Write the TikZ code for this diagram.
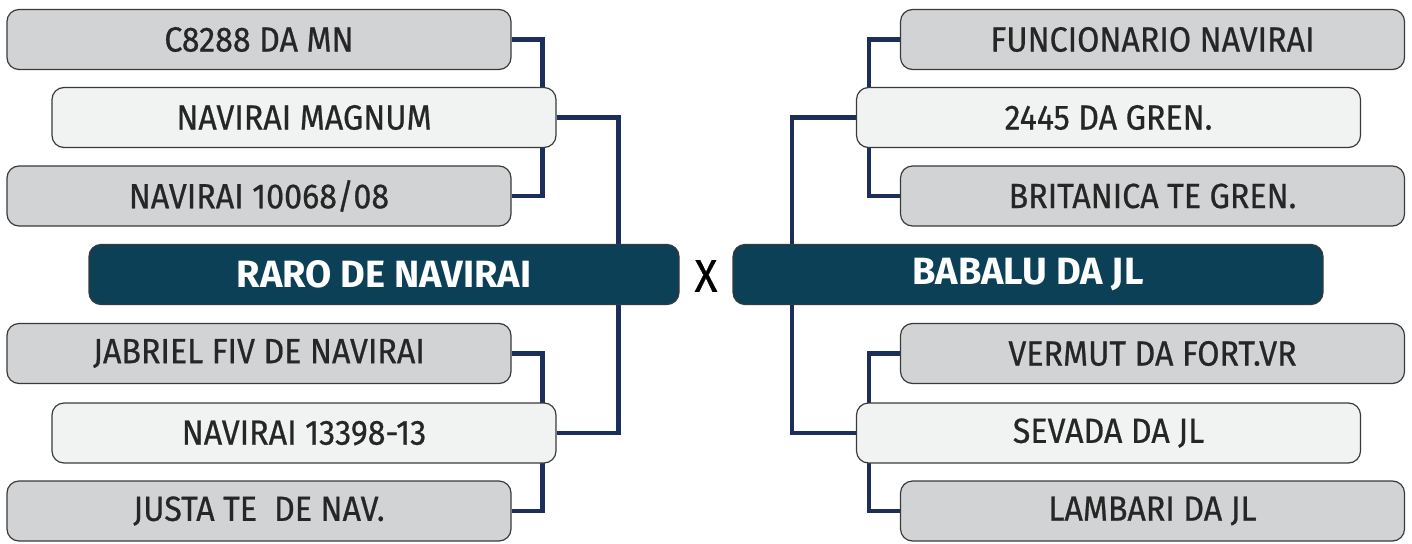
\documentclass[tikz,border=0pt]{standalone}
\usepackage{fontspec}
\setmainfont{Fira Sans}
\newfontfamily\entryfont{Fira Sans}[FakeStretch=0.92, FakeBold=0.6]
\usetikzlibrary{positioning, backgrounds}

\definecolor{boxgray}{HTML}{D1D3D4}
\definecolor{boxlight}{HTML}{F1F2F2}
\definecolor{boxteal}{HTML}{0B4057}
\definecolor{linknavy}{HTML}{1C2F5A}
\definecolor{edgegray}{HTML}{3A3A3A}

\begin{document}
\begin{tikzpicture}[
    x=1pt, y=-1pt,
    entry/.style={rectangle, rounded corners=12pt, minimum width=504pt, minimum height=60pt, text centered, draw=edgegray, line width=1.2pt, text=black!85, font=\entryfont\fontsize{35}{40}\selectfont},
    outer/.style={entry, fill=boxgray},
    inner/.style={entry, fill=boxlight},
    finalist/.style={entry, minimum width=590pt, fill=boxteal, text=white, font=\normalfont\fontsize{38}{44}\selectfont\bfseries},
    link/.style={draw=linknavy, line width=4.5pt}
]
\useasboundingbox (0,0) rectangle (1412,543);

% Left bracket
\node[finalist] (raro) at (384,274.5) {RARO DE NAVIRAI};
\node[outer] (c8288) at (259,39.5) {C8288 DA MN};
\node[inner] (magnum) at (304,117.5) {NAVIRAI MAGNUM};
\node[outer] (n10068) at (259,196) {NAVIRAI 10068/08};
\node[outer] (jabriel) at (259,353.5) {JABRIEL FIV DE NAVIRAI};
\node[inner] (n13398) at (304,433) {NAVIRAI 13398-13};
\node[outer] (justa) at (259,511) {JUSTA TE~~DE NAV.};

% Versus
\node[font=\entryfont\fontsize{46}{50}\selectfont] (vs) at (706,276) {X};

% Right bracket
\node[finalist] (babalu) at (1028,274.5) {BABALU DA JL};
\node[outer] (funcionario) at (1152.5,39.5) {FUNCIONARIO NAVIRAI};
\node[inner] (g2445) at (1108.5,117.5) {2445 DA GREN.};
\node[outer] (britanica) at (1152.5,196) {BRITANICA TE GREN.};
\node[outer] (vermut) at (1152.5,353.5) {VERMUT DA FORT.VR};
\node[inner] (sevada) at (1108.5,433) {SEVADA DA JL};
\node[outer] (lambari) at (1152.5,511) {LAMBARI DA JL};

% Connectors
\begin{scope}[on background layer]
\draw[link] (c8288.east) -- ++(31,0) |- (n10068.east);
\draw[link] (jabriel.east) -- ++(31,0) |- (justa.east);
\draw[link] (magnum.east) -- ++(62,0) |- (n13398.east);
\draw[link] (funcionario.west) -- ++(-31,0) |- (britanica.west);
\draw[link] (vermut.west) -- ++(-31,0) |- (lambari.west);
\draw[link] (g2445.west) -- ++(-64,0) |- (sevada.west);
\end{scope}

\end{tikzpicture}
\end{document}
